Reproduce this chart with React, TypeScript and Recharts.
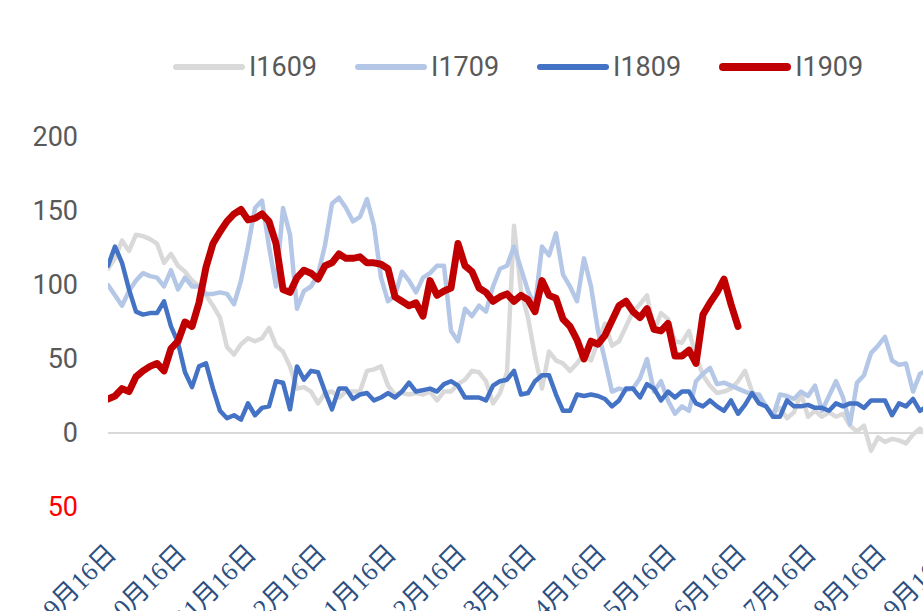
import { LineChart, Line, XAxis, YAxis, ReferenceLine } from 'recharts';

const months = ['9月16日', '10月16日', '11月16日', '12月16日', '1月16日', '2月16日', '3月16日', '4月16日', '5月16日', '6月16日', '7月16日', '8月16日', '9月16日'];

const yTicks = [-50, 0, 50, 100, 150, 200];

const i1609 = [
    111, 118, 130, 123, 134, 133, 131, 128, 115, 121, 113, 109, 103, 99, 93, 86, 78, 58, 53, 60,
    64, 62, 64, 71, 59, 55, 45, 30, 31, 28, 20, 27, 28, 24, 28, 28, 28, 42, 43, 45,
    32, 26, 27, 26, 27, 26, 28, 22, 28, 28, 33, 36, 42, 41, 35, 20, 27, 41, 140, 96,
    78, 52, 30, 55, 49, 47, 42, 47, 54, 49, 62, 74, 59, 62, 72, 82, 87, 93, 69, 81,
    77, 62, 61, 69, 52, 39, 32, 27, 28, 30, 35, 42, 28, 23, 18, 13, 17, 10, 14, 27,
    11, 15, 11, 14, 11, 13, 5, 1, 5, -12, -3, -6, -4, -5, -7, -1, 3, -2,
];

const i1709 = [
    100, 93, 86, 96, 103, 108, 106, 105, 99, 110, 97, 105, 99, 99, 94, 94, 95, 94, 87, 103,
    126, 152, 157, 126, 99, 152, 134, 84, 96, 99, 107, 127, 155, 159, 152, 143, 146, 158, 140, 105,
    89, 93, 109, 103, 95, 105, 108, 113, 113, 69, 62, 84, 79, 86, 82, 99, 111, 113, 126, 111,
    96, 86, 126, 120, 135, 107, 99, 89, 118, 99, 69, 49, 28, 30, 29, 30, 37, 50, 28, 35,
    22, 13, 18, 15, 35, 40, 44, 33, 34, 32, 30, 28, 26, 26, 18, 11, 26, 25, 23, 28,
    25, 32, 15, 25, 35, 24, 6, 34, 39, 54, 59, 65, 49, 46, 47, 28, 40, 42,
];

const i1809 = [
    113, 126, 115, 97, 82, 80, 81, 81, 89, 72, 61, 41, 31, 45, 47, 30, 15, 10, 12, 9,
    20, 12, 17, 18, 35, 34, 16, 45, 36, 42, 41, 28, 16, 30, 30, 23, 26, 27, 22, 24,
    27, 24, 28, 34, 28, 29, 30, 28, 33, 35, 32, 24, 24, 24, 22, 32, 35, 36, 42, 26,
    27, 35, 39, 39, 26, 15, 15, 26, 25, 26, 25, 23, 18, 22, 30, 30, 24, 33, 30, 22,
    28, 24, 28, 28, 20, 18, 22, 18, 15, 22, 13, 19, 27, 20, 18, 11, 11, 22, 18, 18,
    19, 17, 17, 15, 20, 18, 20, 20, 17, 22, 22, 22, 12, 20, 18, 23, 15, 18,
];

const i1909 = [
    23, 25, 30, 28, 38, 42, 45, 47, 42, 57, 62, 75, 72, 88, 112, 128, 136, 143, 148, 151,
    144, 145, 148, 143, 128, 97, 95, 105, 110, 108, 104, 113, 115, 121, 118, 118, 119, 115, 115, 114,
    111, 92, 89, 86, 88, 79, 103, 93, 96, 98, 128, 113, 109, 98, 95, 89, 92, 94, 89, 93,
    90, 82, 103, 93, 91, 77, 72, 63, 50, 62, 60, 66, 76, 86, 89, 82, 78, 84, 70, 69,
    74, 52, 52, 56, 47, 80, 88, 95, 104, 87, 72,
];

const series = [
    { key: 'I1609', values: i1609, color: '#d9d9d9', width: 4.5 },
    { key: 'I1709', values: i1709, color: '#b4c7e7', width: 4.5 },
    { key: 'I1809', values: i1809, color: '#4472c4', width: 4.5 },
    { key: 'I1909', values: i1909, color: '#c00000', width: 7 },
];

const data = i1609.map((_, i) => {
    const row: Record<string, number | null> = { i };
    series.forEach(s => { row[s.key] = i < s.values.length ? s.values[i] : null; });
    return row;
});

function YTick({ x, y, payload }: any) {
    const v = payload.value;
    return (
        <text x={x} y={y} dy={9} textAnchor="end" fontSize={27} fontFamily="Roboto" fill={v < 0 ? '#ff0000' : '#595959'}>
            {Math.abs(v)}
        </text>
    );
}

function XTick({ x, y, payload }: any) {
    return (
        <g transform={`translate(${x + 10},${y + 40})`}>
            <text x={0} y={0} textAnchor="end" transform="rotate(-45)" fontSize={26}
                fontFamily="'Liberation Serif', 'Noto Sans CJK SC'" fill="#2b4f81">
                {months[payload.value / 10]}
            </text>
        </g>
    );
}

function LegendRow() {
    return (
        <div style={{ position: 'absolute', top: 51, left: 173, display: 'flex', gap: 38, fontFamily: 'Roboto', fontSize: 27, color: '#595959' }}>
            {series.map(s => (
                <div key={s.key} style={{ display: 'flex', alignItems: 'center' }}>
                    <span style={{ display: 'inline-block', width: 72, height: s.width + 1, borderRadius: 4, background: s.color, marginRight: 4 }} />
                    <span>{s.key}</span>
                </div>
            ))}
        </div>
    );
}

export default function App() {
    return (
        <div style={{ position: 'absolute', left: 0, top: 0, width: 923, height: 611, overflow: 'hidden', background: '#fff' }}>
            <LineChart width={960} height={611} data={data} margin={{ top: 137, right: 12, left: 48, bottom: 44 }}>
                <ReferenceLine y={0} stroke="#d9d9d9" strokeWidth={2} ifOverflow="extendDomain" />
                <XAxis
                    type="number"
                    dataKey="i"
                    domain={[0, 120]}
                    ticks={months.map((_, k) => k * 10)}
                    tick={<XTick />}
                    interval={0}
                    axisLine={false}
                    tickLine={false}
                    height={60}
                    allowDataOverflow
                />
                <YAxis
                    domain={[-50, 200]}
                    ticks={yTicks}
                    tick={<YTick />}
                    axisLine={false}
                    tickLine={false}
                    tickMargin={24}
                    width={60}
                    interval={0}
                />
                {series.map(s => (
                    <Line
                        key={s.key}
                        type="linear"
                        dataKey={s.key}
                        stroke={s.color}
                        strokeWidth={s.width}
                        strokeLinejoin="round"
                        strokeLinecap="round"
                        dot={false}
                        connectNulls={false}
                        isAnimationActive={false}
                    />
                ))}
            </LineChart>
            <LegendRow />
        </div>
    );
}
